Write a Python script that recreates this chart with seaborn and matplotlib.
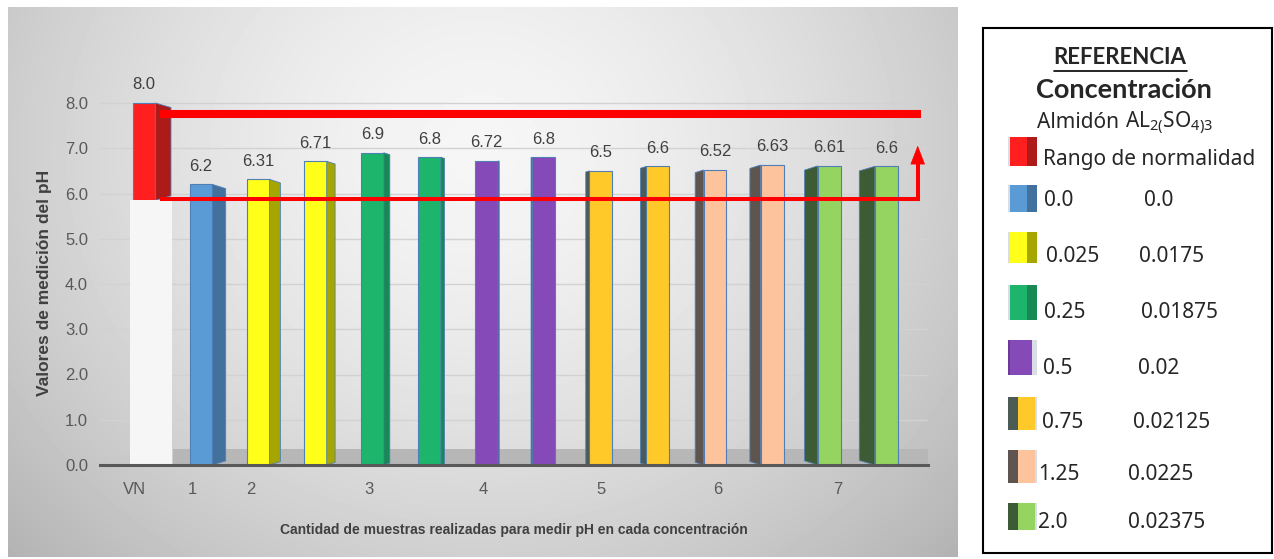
import numpy as np
import pandas as pd
import seaborn as sns
import matplotlib
matplotlib.use("Agg")
import matplotlib.pyplot as plt
from matplotlib.patches import Rectangle, Polygon
from matplotlib.lines import Line2D

# ---------------- data ----------------
vn_label = "VN"
vn_value = 8.0          # top of the normal-range bar
vn_low = 5.85           # bottom of the normal-range bar
sample_ph = [6.2, 6.31, 6.71, 6.9, 6.8, 6.72, 6.8, 6.5, 6.6, 6.52, 6.63, 6.61, 6.6]
sample_group = [0, 1, 1, 2, 2, 3, 3, 4, 4, 5, 5, 6, 6]
range_top = 7.75        # upper red reference line
range_bottom = 5.87     # lower red reference line
arrow_top = 7.12

x_tick_labels = ["VN", "1", "2", "3", "4", "5", "6", "7"]
x_tick_pos = [-0.16, 0.84, 1.87, 3.94, 5.95, 8.0, 10.05, 12.15]
y_ticks = [0, 1, 2, 3, 4, 5, 6, 7, 8]

almidon = ["0.0", "0.025", "0.25", "0.5", "0.75", "1.25", "2.0"]
sulfato = ["0.0", "0.0175", "0.01875", "0.02", "0.02125", "0.0225", "0.02375"]

# colours: front face / side face for each concentration group
vn_front, vn_side = "#ff1f1f", "#ad1a1a"
group_front = ["#5b9bd5", "#ffff1a", "#1db46c", "#8549b8", "#ffc929", "#fdc39c", "#95d461"]
group_side = ["#41719c", "#a6a600", "#168a52", "#6a3a96", "#4d5b55", "#5e5550", "#3d5b34"]
edge_col = "#4f7fb5"
red = "#ff0000"

# ---------------- figure ----------------
sns.set_style("white")
narrow = ["Liberation Sans Narrow", "DejaVu Sans Condensed", "Liberation Sans", "DejaVu Sans"]
plt.rcParams["font.family"] = narrow
plt.rcParams["mathtext.fontset"] = "custom"
plt.rcParams["mathtext.rm"] = "Noto Sans"
plt.rcParams["mathtext.it"] = "Noto Sans:italic"

W, H = 1274, 559
fig = plt.figure(figsize=(W / 100, H / 100), dpi=100)
fig.patch.set_facecolor("white")


def fx(px):
    return px / W


def fy(py):
    return 1 - py / H


# gradient chart-area background
bg = fig.add_axes([fx(8), fy(557), 950 / W, 550 / H])
bg.set_zorder(-5)
yy, xx = np.mgrid[7:557, 8:958]
t = np.hypot((xx - 480) / 620.0, (yy - 150) / 560.0)
shade = np.clip(246 - 62 * t ** 1.5, 170, 250) / 255.0
bg.imshow(shade, cmap="gray", vmin=0, vmax=1, aspect="auto", interpolation="bilinear")
bg.axis("off")

# plot axes
ax = fig.add_axes([fx(100), fy(465), 828 / W, 9 * 45.25 / H])
ax.patch.set_alpha(0)

bar_ids = [vn_label] + [f"m{i}" for i in range(1, len(sample_ph) + 1)]
fronts = [vn_front] + [group_front[g] for g in sample_group]
sides = [vn_side] + [group_side[g] for g in sample_group]
bottoms = [vn_low] + [0.0] * len(sample_ph)
df = pd.DataFrame({"muestra": bar_ids, "pH": [vn_value] + sample_ph})
palette = dict(zip(bar_ids, fronts))

# floor and grid
ax.set_axisbelow(True)
ax.yaxis.grid(True, color="#d2d2d2", lw=1)
xmin, xmax = -0.77, 13.73
ax.add_patch(Rectangle((0.51, 0), xmax - 0.51, 0.36, color="#b7b7b7", zorder=1, lw=0))
ax.add_patch(Polygon([(xmin, 0), (-0.25, 0), (-0.25, 0.25)], closed=True,
                     color="#c9c9c9", zorder=1, lw=0))

sns.barplot(data=df, x="muestra", y="pH", hue="muestra", palette=palette,
            saturation=1, width=0.4, edgecolor=edge_col, linewidth=0.8,
            legend=False, ax=ax, zorder=3)

# pale lower part of the normal-range column
ax.add_patch(Rectangle((-0.245, 0), 0.735, vn_low, color="#f6f6f6", zorder=3.5, lw=0))

# 3-D side faces
half = 0.2
for k, (v, b, sc) in enumerate(zip([vn_value] + sample_ph, bottoms, sides)):
    s = (6.5 - k) * 0.042
    if abs(s) < 0.01:
        continue
    x0 = k + half if s > 0 else k - half
    x1 = x0 + s
    d = min(0.1, abs(s) * 0.4)
    poly = Polygon([(x0, b), (x0, v), (x1, v - d), (x1, b + d)], closed=True,
                   facecolor=sc, edgecolor=edge_col, lw=0.6, zorder=3.2)
    ax.add_patch(poly)

# value labels
for k, v in enumerate([vn_value] + sample_ph):
    txt = f"{v:.1f}" if k == 0 else f"{v:g}"
    ax.text(k, v + 0.4, txt, ha="center", va="center", fontsize=12,
            color="#404040", zorder=6)

# red normal-range lines
ax.plot([0.28, 13.6], [range_top, range_top], color=red, lw=5.8,
        solid_capstyle="butt", zorder=5)
ax.plot([0.28, 13.55, 13.55], [range_bottom, range_bottom, 6.85], color=red,
        lw=2.9, solid_capstyle="butt", solid_joinstyle="miter", zorder=5)
ax.annotate("", xy=(13.55, arrow_top), xytext=(13.55, 6.8),
            arrowprops=dict(arrowstyle="-|>,head_length=0.9,head_width=0.35",
                            color=red, lw=0.5, mutation_scale=14), zorder=5)

# axes styling
ax.set_xlim(xmin, xmax)
ax.set_ylim(0, 9)
ax.set_yticks(y_ticks, [f"{v:.1f}" for v in y_ticks])
ax.set_xticks(x_tick_pos, x_tick_labels)
ax.tick_params(axis="y", length=0, pad=8.6, labelsize=12, labelcolor="#595959")
ax.tick_params(axis="x", length=0, pad=12, labelsize=12, labelcolor="#595959")
ax.set_xlabel("")
ax.set_ylabel("")
for sp in ["top", "left", "right"]:
    ax.spines[sp].set_visible(False)
ax.spines["bottom"].set_color("#595959")
ax.spines["bottom"].set_linewidth(2.2)
ax.spines["bottom"].set_zorder(4)

fig.text(fx(514), fy(530), "Cantidad de muestras realizadas para medir pH en cada concentración",
         ha="center", va="center", fontsize=10, fontweight="bold", color="#404040")
fig.text(fx(45), fy(283), "Valores de medición del pH", rotation=90,
         ha="center", va="center", fontsize=12.5, fontweight="bold", color="#404040")

# ---------------- reference panel ----------------
fig.patches.append(Rectangle((fx(983), fy(553)), (1272 - 983) / W, (553 - 28) / H,
                             transform=fig.transFigure, facecolor="white",
                             edgecolor="black", lw=1.5, zorder=1))
lf = ["Noto Sans", "DejaVu Sans"]
bf = ["Lato", "Liberation Sans", "DejaVu Sans"]
t_ref = fig.text(fx(1120), fy(58), "REFERENCIA", ha="center", va="center",
                 fontsize=16, fontweight="bold", family=bf, zorder=3)
fig.text(fx(1124), fy(90), "Concentración", ha="center", va="center",
         fontsize=19.5, fontweight="bold", family=bf, zorder=3)
fig.text(fx(1037), fy(123), "Almidón", ha="left", va="center", fontsize=15,
         family=lf, zorder=3)
fig.text(fx(1125), fy(123), r"AL$_{2(}$SO$_{4)3}$", ha="left", va="center",
         fontsize=15, family=lf, zorder=3)

fig.canvas.draw()
bb = t_ref.get_window_extent()
fig.add_artist(Line2D([bb.x0 / W, bb.x1 / W], [(bb.y0 - 2) / H, (bb.y0 - 2) / H],
                      color="black", lw=1.2, zorder=3))


def swatch(top, bottom, front, side, side_pos):
    x_left, x_right = 1008, 1037
    if side_pos == "right":
        fr, sd = (1010, 1027), (1027, 1037)
    elif side_pos == "left":
        fr, sd = (1018, 1035), (1008, 1018)
    else:
        fr, sd = (1010, 1032), (1008, 1010)
    fig.patches.append(Rectangle((fx(x_left), fy(bottom)), (x_right - x_left) / W,
                                 (bottom - top) / H, transform=fig.transFigure,
                                 facecolor="#d9dde6", lw=0, zorder=2))
    fig.patches.append(Rectangle((fx(fr[0]), fy(bottom)), (fr[1] - fr[0]) / W,
                                 (bottom - top) / H, transform=fig.transFigure,
                                 facecolor=front, lw=0, zorder=2.1))
    fig.patches.append(Rectangle((fx(sd[0]), fy(bottom)), (sd[1] - sd[0]) / W,
                                 (bottom - top) / H, transform=fig.transFigure,
                                 facecolor=side, lw=0, zorder=2.1))


swatch(137, 166, vn_front, vn_side, "right")
fig.text(fx(1043), fy(159), "Rango de normalidad", ha="left", va="center",
         fontsize=15, family=lf, zorder=3)

row_y = [200, 257, 313, 369, 422, 475, 522]
sw_top = [185, 232, 285, 340, 397, 450, 503]
sw_bot = [212, 263, 320, 375, 430, 483, 530]
x1_pos = [1044, 1046, 1044, 1043, 1042, 1038, 1038]
x2_pos = [1144, 1139, 1141, 1138, 1133, 1128, 1128]
side_pos = ["right", "right", "right", "none", "left", "left", "left"]
for i in range(len(almidon)):
    swatch(sw_top[i], sw_bot[i], group_front[i], group_side[i], side_pos[i])
    fig.text(fx(x1_pos[i]), fy(row_y[i]), almidon[i], ha="left", va="center",
             fontsize=15, family=lf, zorder=3)
    fig.text(fx(x2_pos[i]), fy(row_y[i]), sulfato[i], ha="left", va="center",
             fontsize=15, family=lf, zorder=3)

fig.savefig("out.png", dpi=100, facecolor="white")
